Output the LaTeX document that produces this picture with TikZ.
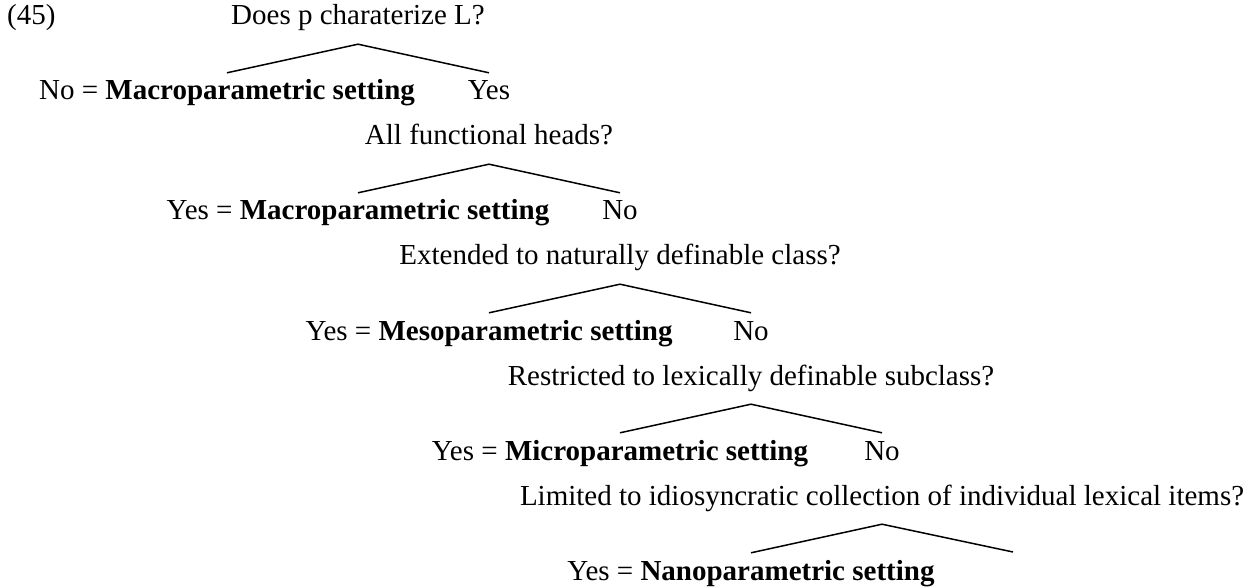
\documentclass[tikz,border=0pt]{standalone}
\usepackage{fontspec}
\setmainfont{Liberation Serif}
\tikzset{
  txt/.style={inner sep=0pt, anchor=base, font=\fontsize{29}{34}\selectfont},
  question/.style={txt, text depth=19pt},
  answer/.style={txt, text height=27pt},
  branch/.style={draw=black, line width=1.5pt}
}
\begin{document}
\begin{tikzpicture}[x=1pt, y=-1pt]
\useasboundingbox (0,0) rectangle (1253,588);
\node[txt, anchor=base west] (num) at (7,25) {(45)};
% level 0
\node[question] (q0) at (358,25) {Does p charaterize L?};
\node[answer] (l0) at (227,100) {No = \textbf{Macroparametric setting}};
\node[answer] (r0) at (489,100) {Yes};
% level 1
\node[question] (q1) at (489,145) {All functional heads?};
\node[answer] (l1) at (358,220) {Yes = \textbf{Macroparametric setting}};
\node[answer] (r1) at (620,220) {No};
% level 2
\node[question] (q2) at (620,265) {Extended to naturally definable class?};
\node[answer] (l2) at (489,340) {Yes = \textbf{Mesoparametric setting}};
\node[answer] (r2) at (751,340) {No};
% level 3
\node[question] (q3) at (751,385) {Restricted to lexically definable subclass?};
\node[answer] (l3) at (620,460) {Yes = \textbf{Microparametric setting}};
\node[answer] (r3) at (882,460) {No};
% level 4
\node[question] (q4) at (882,505) {Limited to idiosyncratic collection of individual lexical items?};
\node[answer] (l4) at (751,580) {Yes = \textbf{Nanoparametric setting}};
\coordinate (r4) at (1013,552);
% branches
\draw[branch] (l0.north) -- (q0.south) -- (r0.north);
\draw[branch] (l1.north) -- (q1.south) -- (r1.north);
\draw[branch] (l2.north) -- (q2.south) -- (r2.north);
\draw[branch] (l3.north) -- (q3.south) -- (r3.north);
\draw[branch] (l4.north) -- (q4.south) -- (r4);
\end{tikzpicture}
\end{document}
